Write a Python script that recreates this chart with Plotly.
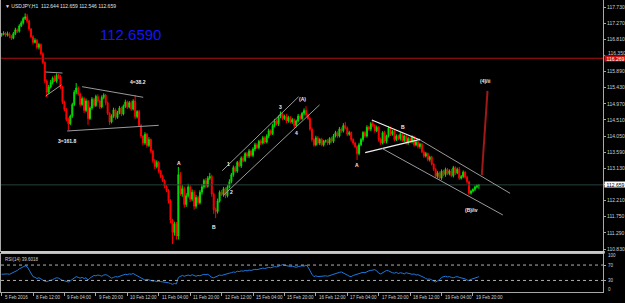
import plotly.graph_objects as go

# ---------------- data (USDJPY H1) ----------------
FIRST_OPEN = 116.92
CLOSE = [
116.95,116.99,116.93,116.97,116.90,116.84,116.97,117.08,117.04,117.19,
117.28,117.40,117.45,117.33,117.10,116.88,116.72,116.78,116.58,116.66,
116.40,116.15,115.62,115.30,115.45,115.58,115.70,115.62,115.78,115.74,
115.45,115.02,114.80,114.52,114.40,114.62,114.95,115.30,115.42,115.25,
114.95,115.12,114.78,115.05,114.55,114.85,115.10,114.92,115.18,115.05,
114.88,115.15,115.22,115.00,114.70,114.45,114.62,114.80,114.58,114.72,
114.85,114.68,114.90,115.02,114.88,115.00,114.82,115.05,114.60,114.75,
114.35,114.05,113.85,114.10,113.78,113.95,113.62,113.35,113.18,113.30,
113.05,112.90,112.78,112.62,112.50,112.20,111.65,111.30,111.55,111.20,
112.95,112.40,112.55,112.10,112.35,112.60,112.25,112.45,112.05,112.30,
112.15,112.45,112.60,112.78,112.62,112.85,112.90,112.40,111.95,111.90,
112.20,112.45,112.38,112.55,112.35,112.60,112.75,112.95,113.15,113.05,
113.30,113.20,113.42,113.35,113.55,113.48,113.62,113.50,113.68,113.80,
113.72,113.90,113.85,114.00,113.88,114.05,114.20,114.12,114.35,114.48,
114.40,114.60,114.68,114.55,114.62,114.48,114.58,114.45,114.52,114.35,
114.48,114.62,114.55,114.70,114.78,114.65,114.55,114.25,113.95,113.80,
114.00,113.85,113.95,113.80,113.90,113.92,113.85,113.98,113.90,114.05,
114.15,114.05,114.25,114.20,114.35,114.28,114.10,114.15,113.95,113.85,
113.75,113.55,113.80,113.95,114.15,114.05,114.30,114.25,114.40,114.35,
114.20,114.30,113.95,113.85,114.15,113.90,114.05,114.28,114.10,114.18,
113.95,114.05,113.98,114.10,113.92,114.05,113.85,113.98,113.90,114.02,
113.80,113.88,113.75,113.82,113.60,113.48,113.55,113.38,113.45,113.25,
113.10,112.90,113.00,112.85,113.05,112.95,113.10,112.98,113.05,112.92,
113.15,113.00,113.10,112.85,112.90,113.02,112.88,112.75,112.42,112.48,
112.53,112.60,112.644,112.659]
# upper / lower wick length in pips (0.01)
UP_WICK = [
4,5,3,6,4,3,5,6,4,5, 6,5,10,8,4,3,5,6,4,5, 3,4,3,5,6,7,5,8,6,4, 5,3,4,5,6,4,5,6,14,5,
4,6,5,7,3,5,6,4,5,6, 4,6,5,3,4,3,5,6,4,5, 6,4,5,7,4,5,6,5,17,4, 5,4,3,6,4,7,3,4,5,6,
4,3,5,4,3,4,5,4,6,5, 22,8,10,6,7,9,5,8,6,7, 5,6,8,5,7,6,10,5,4,6, 7,5,6,5,4,6,7,5,6,5,
4,6,5,7,4,5,6,4,5,6, 5,4,6,5,4,5,6,4,5,6, 5,4,7,5,4,6,5,4,5,3, 4,6,5,4,6,12,4,3,5,4,
6,5,4,5,4,3,5,4,5,6, 5,4,6,5,7,10,4,5,3,4, 3,4,6,5,4,5,6,4,5,11, 4,5,3,6,4,5,4,5,4,5,
4,5,4,6,5,4,3,5,4,5, 4,5,3,4,3,4,5,3,4,4, 3,4,5,4,5,4,5,4,5,6, 5,4,5,7,4,5,3,4,3,4,
3,4,3,0]
DN_WICK = [
4,3,5,4,6,5,3,4,5,4, 3,5,4,6,5,4,6,3,5,6, 4,5,6,14,5,4,6,3,5,6, 5,6,4,5,18,4,5,4,6,5,
6,4,7,5,18,4,5,6,4,5, 6,4,5,7,5,8,4,5,6,4, 5,6,4,5,6,4,5,4,6,5, 4,6,7,5,6,4,5,6,7,5,
6,5,4,6,5,7,8,33,9,10, 10,6,8,9,7,5,8,6,10,7, 6,5,7,5,6,4,5,8,12,19, 6,5,4,6,7,5,4,5,6,4,
5,4,6,5,4,5,6,4,5,6, 4,5,6,4,5,4,6,5,4,5, 5,6,4,5,4,6,5,4,5,7, 5,4,5,4,6,5,4,5,6,5,
4,5,6,4,5,4,6,5,4,5, 4,5,4,6,5,4,5,4,6,5, 4,18,5,4,6,5,4,5,6,4, 5,4,6,5,4,5,6,4,5,4,
5,4,5,6,4,5,4,5,4,6, 5,4,5,6,4,5,4,5,6,4, 5,4,6,4,5,4,6,4,5,4, 5,6,4,5,4,5,4,6,5,4,
4,5,4,9.8]
RSI = [
46,47,46,47,46,48,51,54,56,60, 63,66,68,66,58,48,40,38,35,37, 33,31,28,27,29,30,32,35,37,36,
32,30,29,27,26,29,33,37,40,38, 36,38,35,37,31,36,40,43,42,44, 43,41,44,45,43,40,36,38,40,39,
41,43,44,46,45,47,46,48,45,42, 39,36,33,31,33,32,30,28,29,27, 28,27,26,27,26,24,22,20,22,21,
38,40,43,41,42,44,42,45,43,41, 43,42,44,46,45,46,42,38,37,39, 42,44,43,45,46,47,49,50,52,51,
54,53,55,54,56,55,57,56,58,59, 58,60,61,62,61,63,64,63,65,66, 65,68,69,71,70,68,67,66,67,65,
64,66,67,68,67,70,65,55,46,40, 42,40,41,42,43,42,41,43,44,46, 48,50,51,52,50,47,44,41,40,43,
45,47,49,50,51,50,53,55,56,57, 58,55,49,47,50,53,56,55,52,50, 49,51,48,50,49,47,50,48,47,46,
47,44,45,43,42,38,35,33,34,31, 28,26,29,32,38,40,41,39,40,38, 37,39,40,38,37,36,34,31,30,33,
35,37,38,39.6018]

TICK_IDX = [0,16,32,48,64,80,96,112,128,144,160,176,192,208,224,240]
TICK_TEXT = ["5 Feb 2016","8 Feb 12:00","9 Feb 04:00","9 Feb 20:00","10 Feb 12:00",
             "11 Feb 04:00","11 Feb 20:00","12 Feb 12:00","15 Feb 04:00","15 Feb 20:00",
             "16 Feb 12:00","17 Feb 04:00","17 Feb 20:00","18 Feb 12:00","19 Feb 04:00",
             "19 Feb 20:00"]
PRICE_TICKS = [117.73,117.27,116.81,115.89,115.43,114.97,114.51,114.05,
               113.59,113.13,112.67,112.21,111.75,111.29,110.83]
HIDDEN_TICK = 116.35          # label partly covered by the red price box
RSI_LEVELS = [70, 30]
RED_LEVEL = 116.269
BID = 112.659
HEADER = "\u25bc USDJPY,H1  112.644 112.659 112.546 112.659"
BIG_TEXT = "112.6590"
BIG_TEXT_POS = (65.4, 116.96)

# trendlines drawn on the chart: (bar0, price0, bar1, price1, kind)
TRENDLINES = [
    (22.4, 115.877, 31.0, 115.848, "g"),
    (22.4, 115.19, 30.5, 115.51, "g"),
    (41.0, 115.458, 72.1, 115.156, "g"),
    (33.4, 114.195, 80.0, 114.357, "g"),
    (112.3, 113.06, 151.2, 115.17, "g"),
    (113.1, 112.37, 161.9, 114.94, "g"),
    (188.5, 114.508, 213.1, 113.938, "w"),
    (185.1, 113.576, 213.1, 113.958, "w"),
    (213.1, 113.938, 258.9, 112.418, "g"),
    (193.6, 113.701, 255.2, 111.80, "g"),
    (244.5, 112.94, 247.4, 115.34, "r"),
]
WAVE_LABELS = [
    ("4=38.2", 69.4, 115.59), ("3=161.8", 33.3, 113.92), ("A", 90.2, 113.28),
    ("B", 108.2, 111.46), ("1", 115.3, 113.25), ("2", 117.3, 112.46),
    ("3", 142.1, 114.865), ("(A)", 153.4, 115.11), ("4", 150.2, 114.13),
    ("A", 181.2, 113.22), ("B", 204.3, 114.31), ("(4)/ii", 246.3, 115.63),
    ("(B)/iv", 239.1, 111.93),
]

# ---------------- build ----------------
n = len(CLOSE)
idx = list(range(n))
OPEN = [FIRST_OPEN] + CLOSE[:-1]
HIGH = [max(o, c) + u / 100 for o, c, u in zip(OPEN, CLOSE, UP_WICK)]
LOW = [min(o, c) - d / 100 for o, c, d in zip(OPEN, CLOSE, DN_WICK)]

FONT = "Liberation Sans, Arial, sans-serif"
GRAY = "#a8a8a8"
W, H = 625, 303
L, R, T, B = 1, 22, 0, 11
ph = H - T - B
main_bottom_px, rsi_top_px = 251, 253.5

fig = go.Figure()
fig.add_trace(go.Candlestick(
    x=idx, open=OPEN, high=HIGH, low=LOW, close=CLOSE,
    increasing=dict(line=dict(color="#00e000", width=1), fillcolor="#00e000"),
    decreasing=dict(line=dict(color="#ff0000", width=1), fillcolor="#ff0000"),
    whiskerwidth=0, showlegend=False, hoverinfo="skip", xaxis="x", yaxis="y"))
fig.add_trace(go.Scatter(
    x=idx, y=RSI, mode="lines", line=dict(color="#1e78dc", width=1),
    showlegend=False, hoverinfo="skip", xaxis="x2", yaxis="y2"))

xr = [-0.3, 306.2]
main_dom = [(ph - main_bottom_px) / ph, 1]
rsi_dom = [0, (ph - rsi_top_px) / ph]

fig.update_layout(
    width=W, height=H, margin=dict(l=L, r=R, t=T, b=B),
    paper_bgcolor="black", plot_bgcolor="black", showlegend=False,
    font=dict(family=FONT, size=5, color="#d0d0d0"),
    xaxis=dict(domain=[0, 1], range=xr, anchor="y", showgrid=False, zeroline=False,
               showticklabels=False, showline=True, linecolor=GRAY, mirror=True,
               rangeslider=dict(visible=False), fixedrange=True),
    yaxis=dict(domain=main_dom, range=[110.773, 117.93], side="right", anchor="x",
               showgrid=False, zeroline=False, showline=True, linecolor=GRAY, mirror=True,
               tickvals=PRICE_TICKS, ticktext=[f"{p:.3f}" for p in PRICE_TICKS],
               ticks="outside", ticklen=2, tickcolor=GRAY,
               tickfont=dict(size=5, color="#d0d0d0", family=FONT)),
    xaxis2=dict(domain=[0, 1], range=xr, anchor="y2", matches="x", showgrid=False,
                zeroline=False, showticklabels=False, showline=True, linecolor=GRAY,
                mirror=True, tickvals=TICK_IDX, ticks="outside", ticklen=3, tickcolor=GRAY),
    yaxis2=dict(domain=rsi_dom, range=[0, 100], side="right", anchor="x2",
                showgrid=False, zeroline=False, showline=True, linecolor=GRAY, mirror=True,
                tickvals=RSI_LEVELS, ticks="outside", ticklen=2, tickcolor=GRAY,
                showticklabels=False),
)

shapes = []
# panel separator
shapes.append(dict(type="rect", xref="paper", yref="paper", x0=0, x1=1.003,
                   y0=(ph - rsi_top_px) / ph, y1=(ph - main_bottom_px) / ph,
                   fillcolor="#c8c8c8", line=dict(width=0), layer="above"))
# horizontal levels
shapes.append(dict(type="line", xref="paper", yref="y", x0=0, x1=1, y0=BID, y1=BID,
                   line=dict(color="#28403a", width=1)))
shapes.append(dict(type="line", xref="paper", yref="y", x0=0, x1=1, y0=RED_LEVEL, y1=RED_LEVEL,
                   line=dict(color="#b01010", width=1)))
# tick mark for the partly hidden label
shapes.append(dict(type="line", xref="paper", yref="y", x0=1, x1=1.0035, y0=HIDDEN_TICK,
                   y1=HIDDEN_TICK, line=dict(color=GRAY, width=1)))
for lv in RSI_LEVELS:
    shapes.append(dict(type="line", xref="paper", yref="y2", x0=0, x1=1, y0=lv, y1=lv,
                       line=dict(color="#b0b0b0", width=1, dash="dot")))
colors = {"g": "#9a9a9a", "w": "#f0f0f0", "r": "#a01818"}
widths = {"g": 1, "w": 1.3, "r": 2}
for x0, y0, x1, y1, k in TRENDLINES:
    shapes.append(dict(type="line", xref="x", yref="y", x0=x0, y0=y0, x1=x1, y1=y1,
                       line=dict(color=colors[k], width=widths[k])))
fig.update_layout(shapes=shapes)

ann = []
for txt, xi, py in WAVE_LABELS:
    ann.append(dict(text=f"<b>{txt}</b>", x=xi, y=py, xref="x", yref="y", showarrow=False,
                    font=dict(size=5, color="#f0f0f0", family=FONT)))
for xi, txt in zip(TICK_IDX, TICK_TEXT):
    ann.append(dict(text=txt, x=xi, y=0, xref="x2", yref="paper", xanchor="left",
                    yanchor="top", xshift=1, yshift=-1, showarrow=False,
                    font=dict(size=4.5, color="#d0d0d0", family=FONT)))
# partly hidden tick label, nudged just above the red box
ann.append(dict(text=f"{HIDDEN_TICK:.3f}", x=1, y=HIDDEN_TICK, xref="paper", yref="y",
                xanchor="left", yanchor="bottom", xshift=3, yshift=-2.5, showarrow=False,
                font=dict(size=5, color="#d0d0d0", family=FONT)))
# right price boxes
ann.append(dict(text=f"{RED_LEVEL:.3f}", x=1, y=RED_LEVEL, xref="paper", yref="y",
                xanchor="left", yanchor="middle", showarrow=False, bgcolor="#c81010",
                width=21, height=5, borderpad=0, xshift=1,
                font=dict(size=5, color="#ffffff", family=FONT)))
ann.append(dict(text=f"{BID:.3f}", x=1, y=BID, xref="paper", yref="y",
                xanchor="left", yanchor="middle", showarrow=False, bgcolor="#ffffff",
                width=21, height=5, borderpad=0, xshift=1,
                font=dict(size=5, color="#000000", family=FONT)))
# RSI scale labels
for v, yv in [("100", 96), ("70", 70), ("30", 30), ("0", 6)]:
    ann.append(dict(text=v, x=1, y=yv, xref="paper", yref="y2", xanchor="left",
                    yanchor="middle", xshift=3, showarrow=False,
                    font=dict(size=4.5, color="#d0d0d0", family=FONT)))
ann.append(dict(text="RSI(14) 39.6018", x=0.004, y=rsi_dom[1], xref="paper", yref="paper",
                xanchor="left", yanchor="top", yshift=-1, showarrow=False,
                font=dict(size=4.5, color="#d0d0d0", family=FONT)))
ann.append(dict(text=HEADER, x=0.004, y=1, xref="paper", yref="paper", xanchor="left",
                yanchor="top", yshift=-1, showarrow=False,
                font=dict(size=5, color="#e0e0e0", family=FONT)))
ann.append(dict(text=BIG_TEXT, x=BIG_TEXT_POS[0], y=BIG_TEXT_POS[1], xref="x", yref="y",
                showarrow=False, font=dict(size=15, color="#1414ff", family=FONT)))
fig.update_layout(annotations=ann)

fig.write_html("out.html", config={"displayModeBar": False, "staticPlot": True})
